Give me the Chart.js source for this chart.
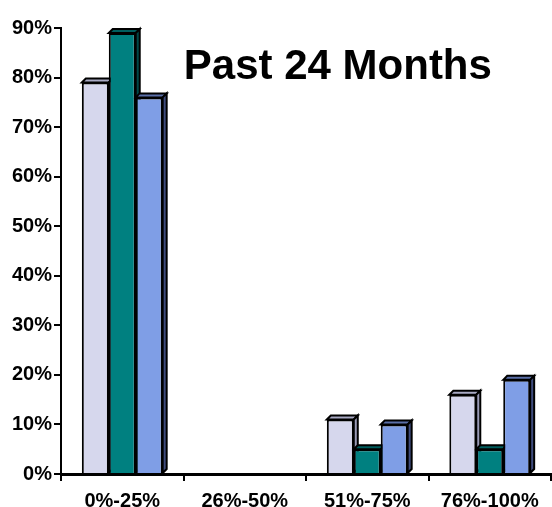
<!DOCTYPE html>
<html>
<head>
<meta charset="utf-8">
<style>
  html, body { margin: 0; padding: 0; background: #ffffff; }
  #wrap { width: 552px; height: 507px; }
</style>
<script src="https://cdn.jsdelivr.net/npm/chart.js@4/dist/chart.umd.min.js"></script>
</head>
<body>
<div id="wrap"><canvas id="chart" width="552" height="507"></canvas></div>
<script>
// Share of respondents by range, past 24 months
const categories = ['0%-25%', '26%-50%', '51%-75%', '76%-100%'];
const seriesA = [79, 0, 11, 16];
const seriesB = [89, 0, 5, 5];
const seriesC = [76, 0, 10, 19];
const yTicks = [0, 10, 20, 30, 40, 50, 60, 70, 80, 90];
const chartTitle = 'Past 24 Months';

const FONT = '"Liberation Sans", Arial, Helvetica, sans-serif';

// front, top and side colours for each series
const faces = [
  { front: '#d6d7ed', top: '#a9aac4', side: '#9a9bb6' },
  { front: '#008080', top: '#005e5e', side: '#004848' },
  { front: '#7f9ee6', top: '#5a6fa8', side: '#3f4c7e' }
];
const DEPTH = 4;

// draws the extruded top and right faces behind every bar
const bar3d = {
  id: 'bar3d',
  beforeDatasetsDraw(chart) {
    const ctx = chart.ctx;
    ctx.save();
    chart.data.datasets.forEach((ds, i) => {
      const meta = chart.getDatasetMeta(i);
      meta.data.forEach((bar, j) => {
        if (!ds.data[j]) return;
        const { x, y, base, width } = bar.getProps(['x', 'y', 'base', 'width'], true);
        const l = x - width / 2, r = x + width / 2;
        ctx.lineWidth = 2;
        ctx.strokeStyle = '#000';
        ctx.lineJoin = 'miter';
        // top face
        ctx.beginPath();
        ctx.moveTo(l, y);
        ctx.lineTo(l + DEPTH, y - DEPTH);
        ctx.lineTo(r + DEPTH, y - DEPTH);
        ctx.lineTo(r, y);
        ctx.closePath();
        ctx.fillStyle = faces[i].top;
        ctx.fill();
        ctx.stroke();
        // side face
        ctx.beginPath();
        ctx.moveTo(r, y);
        ctx.lineTo(r + DEPTH, y - DEPTH);
        ctx.lineTo(r + DEPTH, base - DEPTH);
        ctx.lineTo(r, base);
        ctx.closePath();
        ctx.fillStyle = faces[i].side;
        ctx.fill();
        ctx.stroke();
      });
    });
    ctx.restore();
  },
  afterDraw(chart) {
    const { ctx, chartArea } = chart;
    ctx.save();
    ctx.font = 'bold 42px ' + FONT;
    ctx.fillStyle = '#000';
    ctx.textAlign = 'center';
    ctx.textBaseline = 'alphabetic';
    ctx.fillText(chartTitle, chartArea.left + chartArea.width * 0.565, chartArea.top + 51);
    ctx.restore();
  }
};

const mkSet = (label, data, i) => ({
  label, data,
  backgroundColor: faces[i].front,
  borderColor: '#000',
  borderWidth: 2,
  borderSkipped: 'bottom',
  barPercentage: 1,
  categoryPercentage: 0.66
});

new Chart(document.getElementById('chart'), {
  type: 'bar',
  data: {
    labels: categories,
    datasets: [
      mkSet('A', seriesA, 0),
      mkSet('B', seriesB, 1),
      mkSet('C', seriesC, 2)
    ]
  },
  options: {
    responsive: false,
    animation: false,
    events: [],
    layout: { padding: { top: 28, right: 1, left: 0, bottom: 0 } },
    plugins: { legend: { display: false }, tooltip: { enabled: false }, title: { display: false } },
    scales: {
      x: {
        grid: {
          display: true, drawOnChartArea: false, drawTicks: true,
          tickLength: 7, color: '#000', lineWidth: 2, offset: true
        },
        border: { display: true, color: '#000', width: 3 },
        ticks: {
          color: '#000', padding: 8,
          font: { family: FONT, size: 20, weight: 'bold' },
          maxRotation: 0
        },
        afterFit(scale) { scale.height = 33; }
      },
      y: {
        min: 0, max: 90,
        afterBuildTicks(scale) { scale.ticks = yTicks.map(v => ({ value: v })); },
        grid: {
          display: true, drawOnChartArea: false, drawTicks: true,
          tickLength: 7, color: '#000', lineWidth: 2
        },
        border: { display: true, color: '#000', width: 2 },
        ticks: {
          color: '#000', padding: 2,
          font: { family: FONT, size: 20, weight: 'bold' },
          callback: v => v + '%'
        },
        afterFit(scale) { scale.width = 61; }
      }
    }
  },
  plugins: [bar3d]
});
</script>
</body>
</html>
